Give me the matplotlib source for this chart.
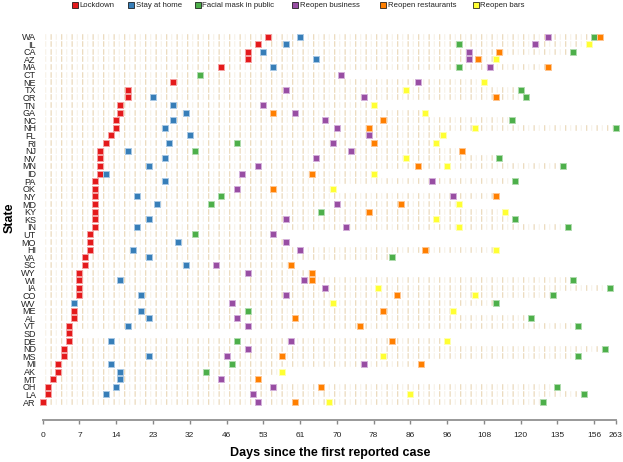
#!/usr/bin/env python3

import numpy as np
import matplotlib
matplotlib.use('Agg')
from matplotlib import pyplot as plt
from matplotlib.patches import Rectangle

plt.rcParams['font.family'] = ['Liberation Sans', 'DejaVu Sans']
plt.rcParams['lines.scale_dashes'] = False

states = ['WA', 'IL', 'CA', 'AZ', 'MA', 'CT', 'NE', 'TX', 'OR', 'TN', 'GA',
          'NC', 'NH', 'FL', 'RI', 'NJ', 'NV', 'MN', 'ID', 'PA', 'OK', 'NY',
          'MD', 'KY', 'KS', 'IN', 'UT', 'MO', 'HI', 'VA', 'SC', 'WY', 'WI',
          'IA', 'CO', 'WV', 'ME', 'AL', 'VT', 'SD', 'DE', 'ND', 'MS', 'MI',
          'AK', 'MT', 'OH', 'LA', 'AR']

# days since first case, None = no such event
lockdown = [54, 52, 50, 50, 44, None, 28, 17, 17, 15, 15,
            14, 14, 13, 12, 11, 11, 11, 11, 10, 10, 10,
            10, 10, 10, 10, 9, 9, 9, 8, 8, 7, 7,
            7, 7, None, 6, 6, 5, 5, 5, 4, 4, 3,
            3, 2, 1, 1, 0]
stay_home = [61, 58, 53, 65, 55, None, None, None, 23, 28, 31,
             28, 26, 32, 27, 17, 26, 22, 12, 26, None, 19,
             24, None, 22, 19, None, 29, 18, 22, 31, None, 15,
             None, 20, 6, 20, 22, 17, None, 13, None, 22, 13,
             15, 15, 14, 12, None]
mask = [156, 100, 144, None, 100, 36, None, 120, 122, None, None,
        117, 263, None, 48, 34, 113, 138, None, 118, None, 44,
        40, 66, 118, 141, 34, None, None, 82, None, None, 144,
        235, 133, 112, 50, 124, 147, None, 48, 210, 147, 47,
        38, None, 135, 150, 129]
business = [131, 126, 103, 103, 110, 71, 88, 58, 76, 53, 60,
            67, 70, 77, 69, 73, 65, 52, 49, 92, 48, 98,
            70, None, 58, 72, 55, 58, 61, None, 42, 50, 62,
            67, 58, 47, None, 48, 50, None, 59, 50, 46, 76,
            None, 44, 55, 51, 52]
restaurants = [184, None, 113, 106, 131, None, None, None, 112, None, 55,
               80, 77, None, 78, 101, None, 88, 64, None, 55, 112,
               84, 77, None, None, None, None, 90, None, 59, 64, 64,
               None, 83, None, 80, 60, 75, None, 82, None, 57, 89,
               None, 52, 66, None, 60]
bars = [None, 153, None, 112, None, None, 108, 85, None, 78, 90,
        None, 105, 95, 93, None, 85, 96, 78, None, 69, None,
        100, 115, 93, 100, None, None, 112, None, None, None, None,
        79, 105, 69, 98, None, None, None, 96, None, 80, None,
        57, None, None, 86, 68]

event_names = ['Lockdown', 'Stay at home', 'Facial mask in public',
               'Reopen business', 'Reopen restaurants', 'Reopen bars']
event_colors = ['#e41a1c', '#377eb8', '#4daf4a', '#984ea3', '#ff7f00', '#ffff33']
event_edges = ['#f5a0a0', '#a8c8e4', '#b0dcae', '#d4b0da', '#ffc690', '#ffffb0']

tick_days = [0, 7, 14, 23, 32, 46, 53, 61, 70, 78, 86, 96, 108, 120, 135, 156, 263]
tick_pos = list(range(16)) + [15.592]


def forward(d):
    d = np.asarray(d, dtype=float)
    return np.where(d < 0, d / 7.0, np.interp(d, tick_days, tick_pos))


def inverse(p):
    p = np.asarray(p, dtype=float)
    return np.where(p < 0, p * 7.0, np.interp(p, tick_pos, tick_days))


W, H = 623, 462
fig = plt.figure(figsize=(W / 100, H / 100), dpi=100)
ax_left, ax_right, ax_top, ax_bot = 42.7, 616, 30, 420
ax = fig.add_axes([ax_left / W, 1 - ax_bot / H,
                   (ax_right - ax_left) / W, (ax_bot - ax_top) / H])
ax.set_xscale('function', functions=(forward, inverse))
ax.set_xlim(0, 263)
row0, pitch = 36.5, 7.615
ax.set_ylim((ax_bot - row0) / pitch, (ax_top - row0) / pitch)

series = [lockdown, stay_home, mask, business, restaurants, bars]
px = 0.72  # points per pixel

# background dashes per row, up to the row's last event
for i, st in enumerate(states):
    last = max(s[i] for s in series if s[i] is not None)
    ax.plot([-0.5, last], [i, i], color='#ecdcc0', lw=5.6 * px,
            linestyle=(0, (1.3 * px, 9.2 * px)), dash_capstyle='butt',
            zorder=1)
    ax.plot([-0.5, last], [i, i], color='#f6f0e4', lw=5.6 * px,
            linestyle=(5.25 * px, (1.0 * px, 9.5 * px)), dash_capstyle='butt',
            zorder=1)

for vals, col, edge in zip(series, event_colors, event_edges):
    xs = [v for v in vals if v is not None]
    ys = [i for i, v in enumerate(vals) if v is not None]
    ax.plot(xs, ys, linestyle='none', marker='s', markersize=4.4,
            markerfacecolor=col, markeredgecolor=edge, markeredgewidth=0.7,
            clip_on=False, zorder=3)

ax.set_yticks(range(len(states)))
ax.set_yticklabels(states, fontsize=6.5, color='#222222')
ax.tick_params(axis='y', length=0, pad=5)

ax.set_xticks(tick_days)
ax.set_xticklabels([str(d) for d in tick_days], fontsize=6, color='#222222')
ax.xaxis.set_minor_locator(matplotlib.ticker.NullLocator())
ax.tick_params(axis='x', length=3, width=1, color='#888888', pad=5.5)

for side in ['top', 'right', 'left']:
    ax.spines[side].set_visible(False)
ax.spines['bottom'].set_color('#999999')
ax.spines['bottom'].set_linewidth(1.4)

fig.text(330 / W, 1 - 453 / H, 'Days since the first reported case',
         ha='center', va='center', fontsize=9, fontweight='bold')
fig.text(10 / W, 1 - 218 / H, 'State', ha='center', va='center',
         rotation=90, fontsize=9, fontweight='bold')

# legend along the top
leg_x = [74.7, 131, 197.5, 295, 383.4, 476]
for x, name, col in zip(leg_x, event_names, event_colors):
    fig.add_artist(Rectangle(((x - 3) / W, 1 - 8 / H), 6 / W, 6 / H,
                             transform=fig.transFigure, facecolor=col,
                             edgecolor='black', linewidth=0.5))
    fig.text((x + 4.5) / W, 1 - 5.2 / H, name, ha='left', va='center',
             fontsize=5.6, color='#222222')

fig.savefig('out.png', dpi=100)
